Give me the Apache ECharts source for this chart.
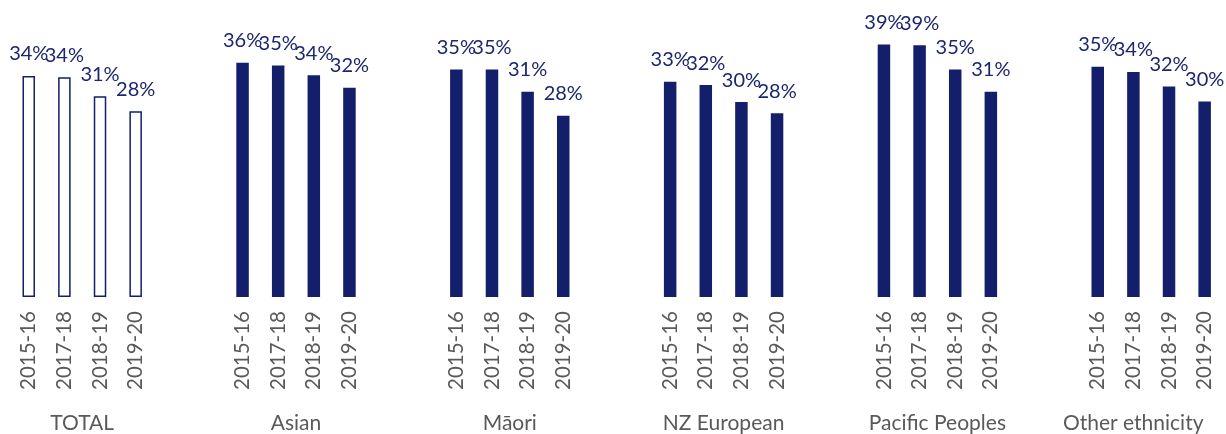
<!DOCTYPE html>
<html>
<head>
<meta charset="utf-8">
<script src="https://cdn.jsdelivr.net/npm/echarts@6/dist/echarts.min.js"></script>
<style>
html,body{margin:0;padding:0;background:#fff;}
#chart{width:1226px;height:434px;}
</style>
</head>
<body>
<div id="chart"></div>
<script>
// ---- data ----
const groups = ['TOTAL', 'Asian', 'Māori', 'NZ European', 'Pacific Peoples', 'Other ethnicity'];
const years = ['2015-16', '2017-18', '2018-19', '2019-20'];
const total = [33.8, 33.6, 30.7, 28.4];
const asian = [35.8, 35.4, 33.9, 32.0];
const maori = [34.8, 34.8, 31.4, 27.7];
const nzEuropean = [32.9, 32.4, 29.8, 28.1];
const pacific = [38.6, 38.5, 34.8, 31.4];
const other = [35.2, 34.4, 32.2, 29.9];
const groupValues = [total, asian, maori, nzEuropean, pacific, other];

const NAVY = '#131f6b';
const LABEL_NAVY = '#1c2670';
const GREY = '#595959';
const FONT = 'Lato';

// build slot categories: blank, 4 years, blank per group
const slotCats = [];
const slotData = [];
groupValues.forEach((vals, gi) => {
  slotCats.push('');
  slotData.push('-');
  years.forEach((y, yi) => {
    slotCats.push(y);
    if (gi === 0) {
      slotData.push({
        value: vals[yi],
        itemStyle: { color: '#ffffff', borderColor: NAVY, borderWidth: 1.5 }
      });
    } else {
      slotData.push(vals[yi]);
    }
  });
  slotCats.push('');
  slotData.push('-');
});

const chart = echarts.init(document.getElementById('chart'), null, { renderer: 'canvas' });
chart.setOption({
  animation: false,
  backgroundColor: '#ffffff',
  grid: {
    left: -24.7,
    width: 1282.8,
    top: 35.4,
    bottom: 137,
    outerBoundsMode: 'none',
    containLabel: false
  },
  xAxis: [
    {
      type: 'category',
      data: slotCats,
      axisLine: { show: false },
      axisTick: { show: false },
      axisLabel: {
        interval: 0,
        rotate: 90,
        margin: 14,
        fontFamily: FONT,
        fontSize: 20.5,
        color: GREY
      }
    },
    {
      type: 'category',
      data: groups,
      position: 'bottom',
      axisLine: { show: false },
      axisTick: { show: false },
      axisLabel: {
        interval: 0,
        margin: 116,
        fontFamily: FONT,
        fontSize: 21,
        color: GREY,
        formatter: (v) => v === 'Other ethnicity' ? '{shift|' + v + '}' : v,
        rich: {
          shift: { fontFamily: FONT, fontSize: 21, color: GREY, padding: [0, 36, 0, 0] }
        }
      }
    }
  ],
  yAxis: {
    type: 'value',
    min: 0,
    max: 40,
    show: false
  },
  series: [
    {
      type: 'bar',
      xAxisIndex: 0,
      data: slotData,
      barWidth: 12.5,
      itemStyle: { color: NAVY },
      label: {
        show: true,
        position: 'top',
        distance: 12,
        fontFamily: FONT,
        fontSize: 20,
        color: LABEL_NAVY,
        formatter: (p) => Math.round(p.value) + '%'
      }
    }
  ]
});
</script>
</body>
</html>
